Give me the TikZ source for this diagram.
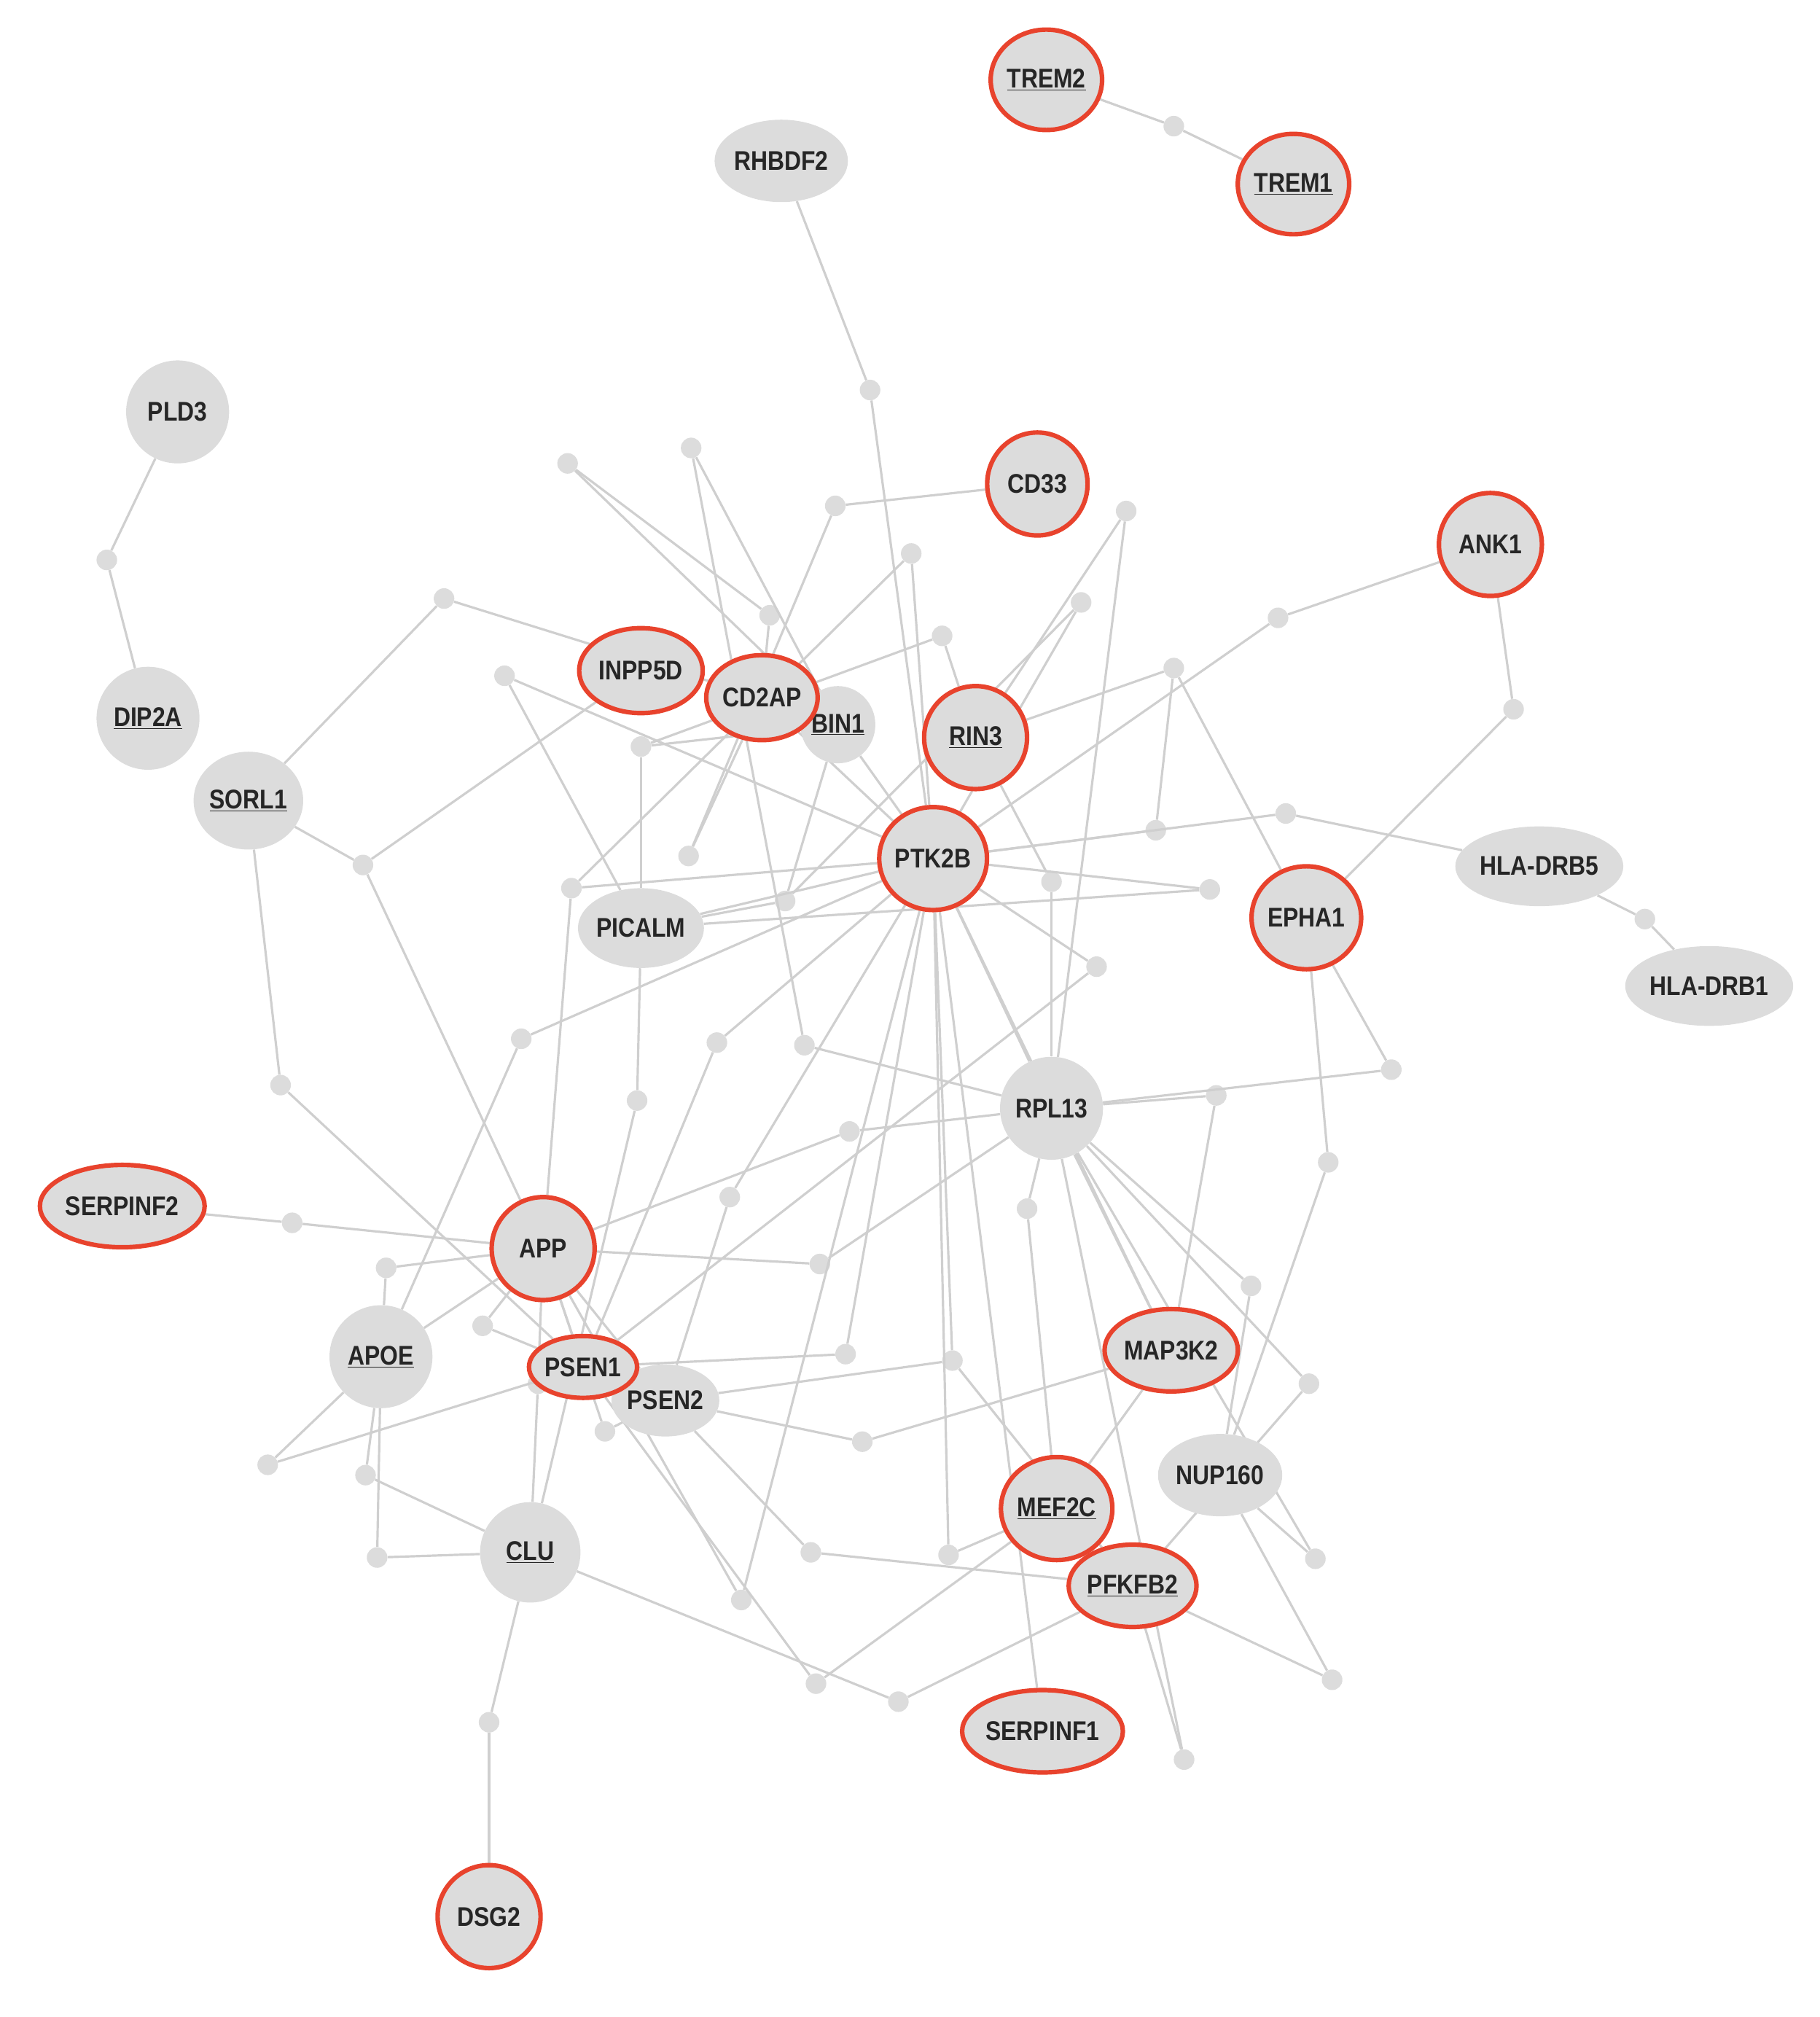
\documentclass[tikz,border=0pt]{standalone}
\usepackage{fontspec}
\setmainfont[FakeStretch=0.86]{Liberation Sans}
\usetikzlibrary{shapes.geometric,backgrounds}
\definecolor{ng}{HTML}{DCDCDC}
\definecolor{eg}{HTML}{CFCFCF}
\definecolor{rd}{HTML}{E8432D}
\newcommand{\ul}[1]{\underline{#1}}
\tikzset{
 gn/.style={ellipse,fill=ng,inner sep=0pt,font=\fontsize{21}{21}\selectfont\bfseries,text=black!85},
 rn/.style={gn,draw=rd,line width=3.5pt},
 dt/.style={circle,fill=ng,inner sep=0pt,minimum size=16pt},
 edge/.style={draw=eg,line width=1.8pt}
}
\begin{document}
\begin{tikzpicture}[x=1pt,y=-1pt]
\useasboundingbox (0,0) rectangle (1414,1567);
\node[rn,minimum width=78,minimum height=78] (TREM2) at (813,62) {\ul{TREM2}};
\node[rn,minimum width=78,minimum height=78] (TREM1) at (1005,143) {\ul{TREM1}};
\node[gn,minimum width=92,minimum height=64] (RHBDF2) at (607,125) {RHBDF2};
\node[gn,minimum width=80,minimum height=80] (PLD3) at (138,320) {PLD3};
\node[rn,minimum width=78,minimum height=80] (CD33) at (806,376) {CD33};
\node[rn,minimum width=80,minimum height=80] (ANK1) at (1158,423) {ANK1};
\node[gn,minimum width=80,minimum height=80] (DIP2A) at (115,558) {\ul{DIP2A}};
\node[gn,minimum width=76,minimum height=76] (SORL1) at (193,622) {\ul{SORL1}};
\node[rn,minimum width=96,minimum height=66] (INPP5D) at (498,521) {INPP5D};
\node[gn,minimum width=52,minimum height=60] (BIN1) at (651,563) {\ul{BIN1}};
\node[rn,minimum width=76,minimum height=66] (CD2AP) at (592,542) {CD2AP};
\node[rn,minimum width=80,minimum height=80] (RIN3) at (758,573) {\ul{RIN3}};
\node[rn,minimum width=80,minimum height=80] (PTK2B) at (725,667) {PTK2B};
\node[gn,minimum width=90,minimum height=62] (PICALM) at (498,721) {PICALM};
\node[gn,minimum width=118,minimum height=62] (HLAa) at (1196,673) {HLA-DRB5};
\node[gn,minimum width=124,minimum height=62] (HLAb) at (1328,766) {HLA-DRB1};
\node[rn,minimum width=80,minimum height=80] (EPHA1) at (1015,713) {EPHA1};
\node[gn,minimum width=80,minimum height=80] (RPL13) at (817,861) {RPL13};
\node[rn,minimum width=128,minimum height=64] (SERPINF2) at (95,937) {SERPINF2};
\node[rn,minimum width=80,minimum height=80] (APP) at (422,970) {APP};
\node[gn,minimum width=80,minimum height=80] (APOE) at (296,1054) {\ul{APOE}};
\node[gn,minimum width=80,minimum height=56] (PSEN2) at (517,1088) {PSEN2};
\node[rn,minimum width=84,minimum height=48] (PSEN1) at (453,1062) {PSEN1};
\node[rn,minimum width=94,minimum height=64] (MAP3K2) at (910,1049) {MAP3K2};
\node[gn,minimum width=92,minimum height=64] (NUP160) at (948,1146) {NUP160};
\node[rn,minimum width=80,minimum height=80] (MEF2C) at (821,1172) {\ul{MEF2C}};
\node[rn,minimum width=94,minimum height=64] (PFKFB2) at (880,1232) {\ul{PFKFB2}};
\node[gn,minimum width=78,minimum height=78] (CLU) at (412,1206) {\ul{CLU}};
\node[rn,minimum width=120,minimum height=64] (SERPINF1) at (810,1345) {SERPINF1};
\node[rn,minimum width=80,minimum height=80] (DSG2) at (380,1489) {DSG2};
\begin{scope}[on background layer]
\foreach \n/\x/\y in {1/912/98,2/676/303,3/83/435,4/441/360,5/537/348,6/649/393,7/875/397,8/708/430,9/840/468,10/598/478,11/732/494,12/345/465,13/392/525,14/912/519,15/993/480,16/1176/551,17/498/580,18/282/672,19/999/632,20/1278/714,21/898/645,22/535/665,23/940/691,24/610/700,25/444/690,26/817/685,27/852/751,28/405/807,29/557/810,30/625/812,31/495/855,32/218/843,33/1081/831,34/945/851,35/660/879,36/1032/903,37/567/930,38/798/939,39/227/950,40/637/982,41/300/985,42/972/999,43/375/1030,44/657/1052,45/740/1057,46/1017/1075,47/208/1138,48/284/1146,49/418/1075,50/470/1112,51/670/1120,52/293/1210,53/630/1206,54/737/1208,55/1022/1211,56/576/1243,57/1035/1305,58/634/1308,59/698/1322,60/920/1367,61/380/1338}
  \node[dt] (d\n) at (\x,\y) {};
\foreach \a/\b in {TREM2/d1,d1/TREM1,RHBDF2/d2,d2/PTK2B,PLD3/d3,d3/DIP2A,d4/d10,d4/BIN1,d5/BIN1,d5/d30,CD33/d6,d6/d22,d7/RIN3,d7/RPL13,d8/PTK2B,d8/d25,d9/PTK2B,d9/d24,d10/CD2AP,d11/d17,d11/RIN3,SORL1/d12,d12/CD2AP,d13/PICALM,d13/PTK2B,d14/RIN3,d14/EPHA1,ANK1/d15,d15/PTK2B,ANK1/d16,d16/EPHA1,d17/PICALM,d17/BIN1,SORL1/d18,d18/INPP5D,d18/APP,d19/HLAa,d19/PTK2B,HLAa/d20,d20/HLAb,d21/PTK2B,d21/d14,d22/CD2AP,d23/PTK2B,d23/PICALM,d24/PICALM,d24/BIN1,d25/APP,d25/PTK2B,d26/RIN3,d26/RPL13,d27/PTK2B,d27/PSEN1,d28/PTK2B,d28/APOE,d29/PTK2B,d29/PSEN1,d30/RPL13,d31/PICALM,d31/CLU,SORL1/d32,d32/PSEN1,EPHA1/d33,d33/RPL13,d34/RPL13,d34/MAP3K2,d35/RPL13,d35/APP,d36/EPHA1,d36/NUP160,d37/PTK2B,d37/PSEN2,d38/RPL13,d38/MEF2C,SERPINF2/d39,d39/APP,d40/APP,d40/RPL13,d41/APP,d41/APOE,d42/RPL13,d42/NUP160,d43/APP,d43/PSEN1,d44/PSEN1,d44/PTK2B,d45/PSEN2,d45/PTK2B,d45/PFKFB2,d46/RPL13,d46/PFKFB2,d47/APOE,d47/PSEN1,d48/APOE,d48/CLU,d49/APP,d49/CLU,d50/APP,d50/PSEN2,d51/MAP3K2,d51/PSEN2,d52/APOE,d52/CLU,d53/PSEN2,d53/PFKFB2,d54/PTK2B,d54/MEF2C,d55/NUP160,d55/RPL13,d56/APP,d56/PTK2B,d57/PFKFB2,d57/NUP160,d58/PSEN1,d58/MEF2C,d59/CLU,d59/PFKFB2,d60/PFKFB2,d60/RPL13,CLU/d61,d61/DSG2,PTK2B/SERPINF1,PTK2B/RPL13,PTK2B/PICALM,PTK2B/BIN1,PTK2B/CD2AP,PTK2B/MAP3K2,RPL13/MAP3K2,MEF2C/MAP3K2,APP/PSEN1,APP/PSEN2,APOE/APP}
  \draw[edge] (\a) -- (\b);
\end{scope}
\end{tikzpicture}
\end{document}
